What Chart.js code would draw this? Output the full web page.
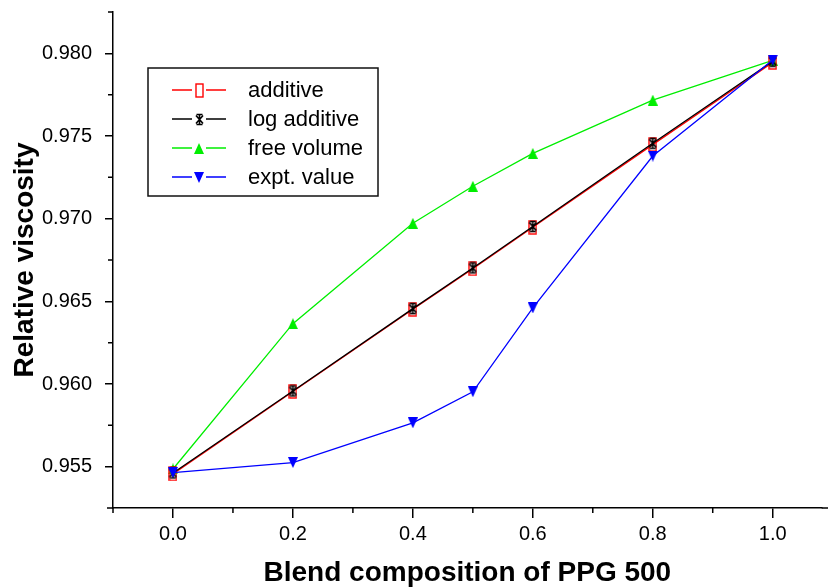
<!DOCTYPE html>
<html><head><meta charset="utf-8">
<script src="https://cdn.jsdelivr.net/npm/chart.js@4.4.0/dist/chart.umd.min.js"></script>
<style>html,body{margin:0;padding:0;background:#fff}canvas{display:block}</style>
</head><body>
<canvas id="c" width="828" height="587"></canvas>
<script>
// ---- data ----
const composition = [0.0, 0.2, 0.4, 0.5, 0.6, 0.8, 1.0];
const additive    = [0.95456, 0.95955, 0.96452, 0.96697, 0.96948, 0.97448, 0.97945];
const logAdditive = [0.95462, 0.95958, 0.96456, 0.96702, 0.96953, 0.97456, 0.97952];
const freeVolume  = [0.95486, 0.96365, 0.96972, 0.97196, 0.97395, 0.97717, 0.97958];
const exptValue   = [0.95464, 0.95525, 0.95765, 0.95953, 0.96460, 0.97379, 0.97959];
const seriesNames = ['additive', 'log additive', 'free volume', 'expt. value'];
const xMajorTicks = [0.0, 0.2, 0.4, 0.6, 0.8, 1.0];
const xMinorTicks = [-0.1, 0.1, 0.3, 0.5, 0.7, 0.9];
const yMajorTicks = [0.955, 0.960, 0.965, 0.970, 0.975, 0.980];
const yMinorTicks = [0.9575, 0.9625, 0.9675, 0.9725, 0.9775, 0.9825];
const xTitle = 'Blend composition of PPG 500';
const yTitle = 'Relative viscosity';

const FONT = '"Liberation Sans", Arial, Helvetica, sans-serif';

// ---- marker images ----
function mk(w, h, draw) {
  const c = document.createElement('canvas');
  c.width = w; c.height = h;
  draw(c.getContext('2d'), w, h);
  return c;
}
const mRect = mk(9, 15, g => {
  g.strokeStyle = '#ff0000'; g.lineWidth = 1.4;
  g.strokeRect(1, 1, 7, 13);
});
const mStar = mk(9, 13, g => {
  g.strokeStyle = '#000'; g.lineWidth = 1.6;
  g.beginPath();
  g.moveTo(4.5, 1); g.lineTo(4.5, 12);
  g.moveTo(1, 2.5); g.lineTo(8, 10.5);
  g.moveTo(8, 2.5); g.lineTo(1, 10.5);
  g.moveTo(1.5, 1.5); g.lineTo(7.5, 1.5);
  g.moveTo(1.5, 11.5); g.lineTo(7.5, 11.5);
  g.stroke();
});
const mUp = mk(10, 11, g => {
  g.fillStyle = '#00ee00';
  g.beginPath(); g.moveTo(5, 0); g.lineTo(10, 11); g.lineTo(0, 11); g.closePath(); g.fill();
});
const mDown = mk(10, 11, g => {
  g.fillStyle = '#0000ff';
  g.beginPath(); g.moveTo(0, 0); g.lineTo(10, 0); g.lineTo(5, 11); g.closePath(); g.fill();
});

function pts(arr) { return composition.map((x, i) => ({x: x, y: arr[i]})); }

const datasets = [
  {label: seriesNames[0], data: pts(additive),    borderColor: '#ff0000', pointStyle: mRect, order: 2},
  {label: seriesNames[1], data: pts(logAdditive), borderColor: '#000000', pointStyle: mStar, order: 1},
  {label: seriesNames[2], data: pts(freeVolume),  borderColor: '#00ee00', pointStyle: mUp,   order: 3},
  {label: seriesNames[3], data: pts(exptValue),   borderColor: '#0000ff', pointStyle: mDown, order: 0}
].map(d => Object.assign({borderWidth: 1.3, tension: 0, fill: false, pointRadius: 5, backgroundColor: d.borderColor}, d));

// ---- plugins ----
const minorTicks = {
  id: 'minorTicks',
  afterDraw(chart) {
    const ctx = chart.ctx, xs = chart.scales.x, ys = chart.scales.y;
    const a = chart.chartArea;
    ctx.save();
    ctx.strokeStyle = '#000'; ctx.lineWidth = 1.5;
    ctx.beginPath();
    xMinorTicks.forEach(v => {
      const px = xs.getPixelForValue(v);
      ctx.moveTo(px, a.bottom); ctx.lineTo(px, a.bottom + 5);
    });
    yMinorTicks.forEach(v => {
      const py = ys.getPixelForValue(v);
      ctx.moveTo(a.left, py); ctx.lineTo(a.left - 5, py);
    });
    // x axis line continues a little past both ends of the plot
    ctx.moveTo(a.left - 6, a.bottom); ctx.lineTo(a.left, a.bottom);
    ctx.moveTo(a.right, a.bottom); ctx.lineTo(chart.width, a.bottom);
    ctx.stroke();
    ctx.restore();
  }
};

const boxLegend = {
  id: 'boxLegend',
  afterDraw(chart) {
    const ctx = chart.ctx;
    const L = 148, T = 68, R = 378, B = 196;
    ctx.save();
    ctx.fillStyle = '#fff';
    ctx.fillRect(L, T, R - L, B - T);
    ctx.strokeStyle = '#111'; ctx.lineWidth = 1.5;
    ctx.strokeRect(L, T, R - L, B - T);
    ctx.font = '22px ' + FONT;
    ctx.textBaseline = 'middle';
    ctx.textAlign = 'left';
    chart.data.datasets.forEach((d, i) => {
      const y = 90 + i * 29;
      ctx.strokeStyle = d.borderColor; ctx.lineWidth = 1.3;
      ctx.beginPath();
      ctx.moveTo(172, y); ctx.lineTo(192, y);
      ctx.moveTo(206, y); ctx.lineTo(226, y);
      ctx.stroke();
      const img = d.pointStyle;
      ctx.drawImage(img, Math.round(199 - img.width / 2), Math.round(y - img.height / 2));
      ctx.fillStyle = '#000';
      ctx.fillText(d.label, 248, y + 1);
    });
    ctx.restore();
  }
};

function noPad(s) { s.paddingTop = 0; s.paddingBottom = 0; s.paddingLeft = 0; s.paddingRight = 0; }

new Chart(document.getElementById('c'), {
  type: 'line',
  data: {datasets: datasets},
  options: {
    responsive: false,
    animation: false,
    devicePixelRatio: 1,
    layout: {padding: {top: 12, right: 0, left: 0, bottom: 0}},
    plugins: {legend: {display: false}, tooltip: {enabled: false}},
    scales: {
      x: {
        type: 'linear',
        min: -0.1, max: 1.0817,
        afterBuildTicks: s => { s.ticks = xMajorTicks.map(v => ({value: v})); },
        afterFit: s => { s.height = 79; noPad(s); },
        grid: {drawOnChartArea: false, drawTicks: true, tickLength: 10, color: '#000', lineWidth: 1.5},
        border: {display: true, color: '#000', width: 1.5},
        ticks: {
          color: '#000', padding: 4, maxRotation: 0, autoSkip: false,
          font: {family: FONT, size: 20},
          callback: v => Number(v).toFixed(1)
        },
        title: {display: true, text: xTitle, color: '#000', font: {family: FONT, size: 28, weight: 'bold', lineHeight: 1}, padding: {top: 0, bottom: 0}}
      },
      y: {
        type: 'linear',
        min: 0.9525, max: 0.9825,
        afterBuildTicks: s => { s.ticks = yMajorTicks.map(v => ({value: v})); },
        afterFit: s => { s.width = 113; noPad(s); },
        grid: {drawOnChartArea: false, drawTicks: true, tickLength: 8, color: '#000', lineWidth: 1.5},
        border: {display: true, color: '#000', width: 1.5},
        ticks: {
          color: '#000', padding: 13, autoSkip: false,
          font: {family: FONT, size: 20},
          callback: v => Number(v).toFixed(3)
        },
        title: {display: true, text: yTitle, color: '#000', font: {family: FONT, size: 28, weight: 'bold', lineHeight: 1}, padding: {top: 11, bottom: 0}}
      }
    }
  },
  plugins: [minorTicks, boxLegend]
});
</script>
</body></html>
